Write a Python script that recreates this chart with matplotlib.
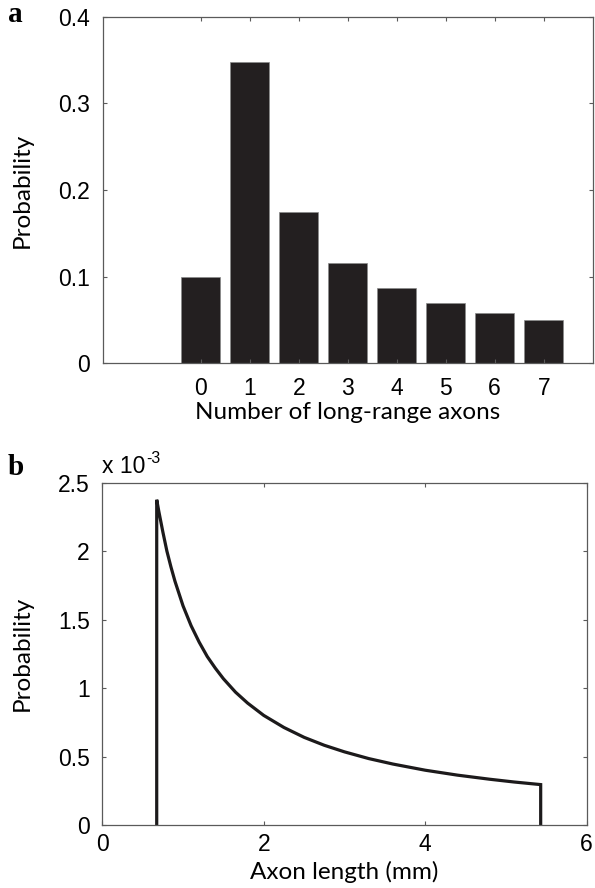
import matplotlib
matplotlib.use("Agg")
import matplotlib.pyplot as plt

# ---- data ----
axon_counts = [0, 1, 2, 3, 4, 5, 6, 7]
count_prob = [0.100, 0.348, 0.174, 0.116, 0.087, 0.069, 0.058, 0.050]

length_mm = [0.674, 0.70, 0.75, 0.80, 0.85, 0.90, 1.00, 1.10, 1.20, 1.30, 1.40,
             1.50, 1.65, 1.80, 2.00, 2.25, 2.50, 2.75, 3.00, 3.30, 3.60, 4.00,
             4.40, 4.80, 5.10, 5.43]
length_prob_e3 = [2.375, 2.29, 2.14, 2.00, 1.885, 1.78, 1.60, 1.455, 1.335, 1.23,
                  1.145, 1.068, 0.970, 0.890, 0.800, 0.712, 0.640, 0.582, 0.534,
                  0.485, 0.445, 0.400, 0.364, 0.334, 0.314, 0.295]

W, H = 595, 888
fig = plt.figure(figsize=(W / 100, H / 100), dpi=100)

tick_font = "Liberation Sans"
label_font = "Lato"
spine_col = "#5a5a5a"
ink = "#231f20"
tsize = 16.5
lsize = 17.5


def style_axes(ax):
    for s in ax.spines.values():
        s.set_color(spine_col)
        s.set_linewidth(0.9)
    ax.tick_params(direction="in", length=3, width=0.8, color=spine_col,
                   top=True, right=True, labelsize=tsize, pad=9)
    for lab in ax.get_xticklabels() + ax.get_yticklabels():
        lab.set_fontfamily(tick_font)


# ---- panel a ----
ax1 = fig.add_axes([102.7 / W, 1 - 363.3 / H, 490.0 / W, 346.7 / H])
ax1.bar(axon_counts, count_prob, width=0.8, color=ink, edgecolor="#8a8a8a",
        linewidth=0.5)
ax1.set_xlim(-2, 8)
ax1.set_ylim(0, 0.4)
ax1.set_xticks(axon_counts)
ax1.set_yticks([0, 0.1, 0.2, 0.3, 0.4])
ax1.set_yticklabels(["0", "0.1", "0.2", "0.3", "0.4"])
style_axes(ax1)
ax1.tick_params(axis="x", pad=10)
ax1.set_xlabel("Number of long-range axons", fontfamily=label_font,
               fontsize=lsize)
ax1.xaxis.set_label_coords(0.5, -0.1405)
ax1.xaxis.label.set_va("center")
ax1.set_ylabel("Probability", fontfamily=label_font, fontsize=lsize)
ax1.yaxis.set_label_coords((22 - 102.7) / 490.0, 0.5)
ax1.yaxis.label.set_va("center")

# ---- panel b ----
ax2 = fig.add_axes([102.3 / W, 1 - 825.0 / H, 484.4 / W, 342.4 / H])
xs = [length_mm[0]] + length_mm + [length_mm[-1]]
ys = [0.0] + [v * 1e-3 for v in length_prob_e3] + [0.0]
ax2.plot(xs, ys, color="#1c1a1b", linewidth=2.3, solid_joinstyle="miter",
         solid_capstyle="butt", clip_on=False)
ax2.set_xlim(0, 6)
ax2.set_ylim(0, 2.5e-3)
ax2.set_xticks([0, 2, 4, 6])
ax2.set_yticks([0, 0.5e-3, 1e-3, 1.5e-3, 2e-3, 2.5e-3])
ax2.set_yticklabels(["0", "0.5", "1", "1.5", "2", "2.5"])
style_axes(ax2)
ax2.tick_params(axis="x", pad=6)
ax2.set_xlabel("Axon length (mm)", fontfamily=label_font, fontsize=lsize)
ax2.xaxis.set_label_coords(0.5, -0.137)
ax2.xaxis.label.set_va("center")
ax2.set_ylabel("Probability", fontfamily=label_font, fontsize=lsize)
ax2.yaxis.set_label_coords((22 - 102.3) / 484.4, 0.5)
ax2.yaxis.label.set_va("center")
base = ax2.text(0.0, 1.012, "x 10", transform=ax2.transAxes,
                ha="left", va="bottom", fontfamily=tick_font, fontsize=tsize)
ax2.annotate("-3", xy=(1.0, 0.55), xycoords=base, xytext=(0.5, 0),
             textcoords="offset points", ha="left", va="bottom",
             fontfamily=tick_font, fontsize=tsize * 0.7)

# ---- panel letters ----
fig.text(8 / W, 1 - 15 / H, "a", fontfamily="Liberation Serif",
         fontweight="bold", fontsize=21, ha="left", va="center")
fig.text(8 / W, 1 - 467 / H, "b", fontfamily="Liberation Serif",
         fontweight="bold", fontsize=21, ha="left", va="center")

fig.savefig("out.png", dpi=100, facecolor="white")
